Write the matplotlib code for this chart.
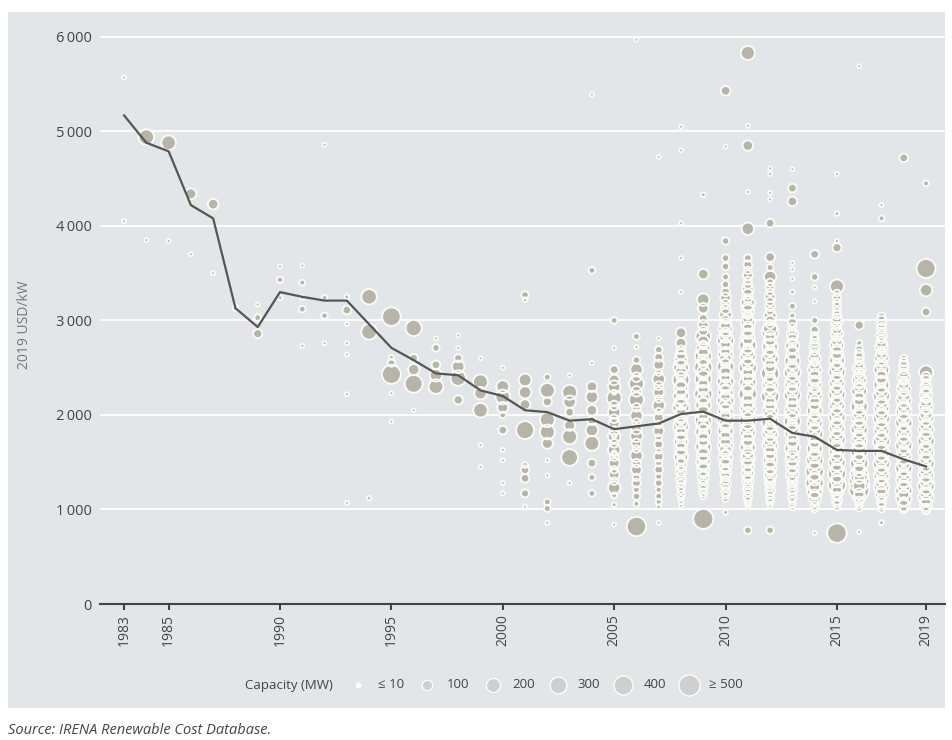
import numpy as np
import matplotlib.pyplot as plt
import matplotlib.patches as mpatches

plt.rcParams['font.family'] = ['Open Sans', 'DejaVu Sans']

# Weighted average installed cost (2019 USD/kW)
avg_years = list(range(1983, 2020))
avg_cost = [5170, 4880, 4790, 4220, 4080, 3130, 2930, 3300, 3250, 3210,
            3210, 2960, 2710, 2580, 2440, 2420, 2260, 2200, 2050, 2030,
            1940, 1955, 1850, 1880, 1910, 2010, 2035, 1940, 1940, 1960,
            1810, 1770, 1630, 1620, 1620, 1530, 1455]

# Individual projects per commissioning year: (USD/kW, MW)
p1983 = [(5570, 5), (4050, 5)]
p1984 = [(4940, 250), (3850, 5)]
p1985 = [(4880, 220), (3840, 5)]
p1986 = [(4340, 110), (3700, 5)]
p1987 = [(4230, 100), (3500, 5)]
p1988 = [(3150, 5), (3130, 20)]
p1989 = [(3170, 5), (3030, 30), (2860, 70)]
p1990 = [(3570, 5), (3430, 25), (3240, 10)]
p1991 = [(3580, 5), (3400, 20), (3240, 8), (3120, 30), (2730, 5)]
p1992 = [(4860, 5), (3240, 15), (3050, 25), (2760, 5)]
p1993 = [(3250, 10), (3110, 60), (2960, 5), (2760, 5), (2640, 5), (2220, 5), (1070, 5)]
p1994 = [(3250, 250), (2880, 260), (1120, 8)]
p1995 = [(3040, 380), (2610, 10), (2550, 40), (2430, 400), (2230, 5), (1930, 5)]
p1996 = [(2920, 280), (2600, 60), (2480, 120), (2330, 350), (2050, 5)]
p1997 = [(2810, 5), (2710, 40), (2530, 60), (2420, 150), (2300, 220)]
p1998 = [(2840, 5), (2710, 5), (2600, 50), (2510, 150), (2390, 250), (2160, 70)]
p1999 = [(2600, 5), (2350, 230), (2230, 150), (2050, 220), (1680, 5), (1450, 5)]
p2000 = [(2500, 5), (2300, 160), (2190, 220), (2080, 110), (2000, 30), (1840, 60),
         (1630, 5), (1520, 5), (1280, 5), (1170, 5)]
p2001 = [(3270, 40), (3220, 10), (2370, 160), (2240, 150), (2110, 100), (1840, 350),
         (1470, 20), (1420, 60), (1330, 60), (1170, 50), (1030, 5)]
p2002 = [(2400, 30), (2260, 230), (2140, 70), (1950, 230), (1820, 230), (1700, 110),
         (1520, 5), (1360, 5), (1080, 30), (1010, 30), (860, 5)]
p2003 = [(2420, 5), (2240, 230), (2140, 150), (2030, 60), (1890, 110), (1770, 230),
         (1550, 300), (1280, 5)]
p2004 = [(5390, 5), (3530, 30), (2550, 5), (2300, 100), (2190, 150), (2050, 100),
         (1940, 60), (1840, 150), (1700, 230), (1490, 60), (1340, 30), (1170, 30)]
p2005 = [(3000, 30), (2710, 5), (2480, 60), (2370, 100), (2300, 150), (2240, 10),
         (2180, 230), (2100, 80), (2030, 150), (1960, 60), (1910, 100), (1830, 80),
         (1780, 10), (1770, 150), (1700, 60), (1630, 150), (1600, 10), (1560, 60),
         (1490, 100), (1420, 40), (1370, 100), (1300, 40), (1230, 150), (1150, 20),
         (1050, 10), (840, 5)]
p2006 = [(5970, 5), (2830, 30), (2720, 5), (2580, 40), (2480, 150), (2400, 80),
         (2330, 230), (2250, 100), (2160, 230), (2080, 60), (1990, 150), (1920, 60),
         (1850, 100), (1780, 150), (1700, 80), (1640, 40), (1570, 150), (1490, 60),
         (1420, 100), (1340, 40), (1280, 60), (1210, 30), (1140, 40), (1060, 20),
         (820, 420)]
p2007 = [(4730, 5), (2810, 5), (2690, 40), (2610, 60), (2530, 100), (2450, 30),
         (2380, 150), (2310, 60), (2240, 100), (2170, 40), (2100, 150), (2040, 30),
         (1970, 80), (1900, 40), (1830, 100), (1760, 30), (1690, 60), (1620, 20),
         (1560, 80), (1490, 30), (1420, 60), (1350, 30), (1280, 40), (1210, 20),
         (1140, 30), (1080, 20), (1030, 10), (860, 5)]
p2008 = [(5050, 5), (4800, 5), (4030, 5), (3660, 5), (3300, 5), (2870, 100),
         (2760, 100), (2690, 60), (2640, 100), (2590, 150), (2540, 80), (2500, 250),
         (2450, 120), (2410, 80), (2370, 300), (2320, 100), (2280, 200), (2240, 80),
         (2200, 250), (2160, 100), (2120, 150), (2080, 300), (2040, 80), (2000, 200),
         (1960, 100), (1920, 150), (1880, 250), (1840, 80), (1800, 150), (1760, 100),
         (1720, 200), (1680, 80), (1640, 150), (1600, 100), (1560, 200), (1520, 60),
         (1480, 120), (1440, 50), (1400, 100), (1360, 50), (1320, 80), (1280, 40),
         (1240, 60), (1200, 30), (1160, 40), (1120, 20), (1080, 10), (1040, 5)]
p2009 = [(4330, 10), (3490, 100), (3220, 150), (3130, 100), (3020, 60), (2950, 100),
         (2890, 80), (2830, 250), (2780, 120), (2740, 60), (2700, 200), (2660, 100),
         (2620, 300), (2580, 120), (2540, 80), (2500, 350), (2460, 150), (2420, 100),
         (2380, 300), (2340, 80), (2300, 200), (2260, 100), (2220, 350), (2180, 150),
         (2140, 80), (2100, 250), (2060, 100), (2020, 200), (1980, 80), (1940, 300),
         (1900, 150), (1860, 80), (1820, 250), (1780, 100), (1740, 150), (1700, 80),
         (1660, 250), (1620, 100), (1580, 150), (1540, 80), (1500, 200), (1460, 100),
         (1420, 150), (1380, 60), (1340, 120), (1300, 50), (1260, 80), (1220, 40),
         (1180, 50), (1140, 20), (900, 450)]
p2010 = [(5430, 80), (4840, 5), (3840, 40), (3660, 40), (3570, 40), (3460, 30),
         (3380, 40), (3300, 60), (3240, 100), (3180, 60), (3120, 80), (3060, 150),
         (3010, 60), (2960, 120), (2910, 200), (2870, 100), (2830, 150), (2790, 300),
         (2750, 100), (2710, 200), (2670, 80), (2630, 250), (2590, 150), (2550, 80),
         (2510, 300), (2470, 100), (2430, 200), (2390, 80), (2350, 300), (2310, 150),
         (2270, 100), (2230, 250), (2190, 80), (2150, 300), (2110, 150), (2070, 100),
         (2030, 250), (1990, 80), (1950, 300), (1910, 150), (1870, 100), (1830, 250),
         (1790, 80), (1750, 200), (1710, 100), (1670, 250), (1630, 150), (1590, 80),
         (1550, 200), (1510, 100), (1470, 150), (1430, 60), (1390, 120), (1350, 80),
         (1310, 60), (1270, 100), (1230, 40), (1190, 60), (1150, 30), (1110, 20),
         (970, 10)]
p2011 = [(5830, 200), (5060, 5), (4850, 100), (4360, 5), (3970, 150), (3660, 40),
         (3590, 60), (3530, 40), (3480, 80), (3420, 50), (3380, 60), (3330, 120),
         (3280, 100), (3230, 60), (3180, 200), (3140, 100), (3100, 150), (3060, 60),
         (3020, 100), (2980, 200), (2940, 80), (2900, 150), (2860, 100), (2820, 200),
         (2780, 80), (2740, 300), (2700, 100), (2660, 150), (2620, 250), (2580, 80),
         (2540, 150), (2500, 350), (2460, 100), (2420, 200), (2380, 80), (2340, 300),
         (2300, 150), (2260, 100), (2220, 350), (2180, 80), (2140, 200), (2100, 100),
         (2060, 250), (2020, 150), (1980, 80), (1940, 300), (1900, 100), (1860, 150),
         (1820, 250), (1780, 80), (1740, 150), (1700, 100), (1660, 250), (1620, 80),
         (1580, 150), (1540, 200), (1500, 100), (1460, 150), (1420, 60), (1380, 150),
         (1340, 80), (1300, 120), (1260, 60), (1220, 80), (1180, 40), (1140, 60),
         (1100, 30), (1060, 20), (1030, 5), (780, 40)]
p2012 = [(4610, 5), (4550, 5), (4350, 5), (4280, 5), (4030, 60), (3670, 80),
         (3560, 30), (3460, 150), (3400, 50), (3350, 60), (3300, 40), (3250, 100),
         (3200, 60), (3150, 80), (3100, 50), (3050, 150), (3000, 80), (2960, 60),
         (2920, 200), (2880, 300), (2840, 100), (2800, 150), (2760, 80), (2720, 250),
         (2680, 100), (2640, 150), (2600, 300), (2560, 80), (2520, 150), (2480, 100),
         (2440, 350), (2400, 80), (2360, 150), (2320, 250), (2280, 100), (2240, 150),
         (2200, 350), (2160, 80), (2120, 150), (2080, 100), (2040, 250), (2000, 150),
         (1960, 80), (1920, 300), (1880, 100), (1840, 150), (1800, 250), (1760, 80),
         (1720, 150), (1680, 250), (1640, 100), (1600, 150), (1560, 80), (1520, 200),
         (1480, 100), (1440, 150), (1400, 60), (1360, 150), (1320, 80), (1280, 100),
         (1240, 50), (1200, 80), (1160, 40), (1120, 50), (1080, 30), (1040, 10),
         (780, 40)]
p2013 = [(4600, 5), (4400, 60), (4260, 80), (3610, 5), (3540, 5), (3440, 5),
         (3300, 10), (3150, 30), (3050, 20), (2980, 60), (2930, 50), (2890, 40),
         (2850, 120), (2810, 80), (2770, 60), (2730, 200), (2690, 80), (2650, 150),
         (2610, 60), (2570, 250), (2530, 100), (2490, 150), (2450, 300), (2410, 80),
         (2370, 150), (2330, 250), (2290, 100), (2250, 150), (2210, 300), (2170, 80),
         (2130, 150), (2090, 100), (2050, 250), (2010, 150), (1970, 80), (1930, 300),
         (1890, 100), (1850, 150), (1810, 250), (1770, 80), (1730, 150), (1690, 100),
         (1650, 250), (1610, 80), (1570, 150), (1530, 200), (1490, 100), (1450, 150),
         (1410, 60), (1370, 150), (1330, 80), (1290, 100), (1250, 50), (1210, 80),
         (1170, 40), (1130, 60), (1090, 30), (1050, 20), (1010, 5)]
p2014 = [(3700, 60), (3460, 40), (3350, 5), (3200, 5), (3000, 30), (2900, 50),
         (2840, 40), (2800, 60), (2760, 50), (2720, 100), (2680, 60), (2640, 80),
         (2600, 150), (2560, 60), (2520, 100), (2480, 200), (2440, 80), (2400, 150),
         (2360, 100), (2320, 200), (2280, 80), (2240, 150), (2200, 250), (2160, 100),
         (2120, 150), (2080, 80), (2040, 250), (2000, 100), (1960, 150), (1920, 250),
         (1880, 80), (1840, 150), (1800, 300), (1760, 100), (1720, 150), (1680, 80),
         (1640, 250), (1600, 100), (1560, 150), (1520, 300), (1480, 100), (1440, 150),
         (1400, 350), (1360, 100), (1320, 150), (1280, 350), (1240, 100), (1200, 250),
         (1160, 80), (1120, 150), (1080, 50), (1040, 60), (1000, 20), (750, 5)]
p2015 = [(4550, 5), (4130, 10), (3840, 5), (3770, 70), (3360, 200), (3290, 30),
         (3240, 50), (3190, 40), (3150, 60), (3100, 40), (3060, 60), (3020, 80),
         (2980, 120), (2940, 60), (2900, 80), (2860, 150), (2820, 60), (2780, 100),
         (2740, 200), (2700, 80), (2660, 150), (2620, 100), (2580, 250), (2540, 80),
         (2500, 150), (2460, 300), (2420, 100), (2380, 150), (2340, 250), (2300, 80),
         (2260, 150), (2220, 300), (2180, 100), (2140, 150), (2100, 250), (2060, 80),
         (2020, 150), (1980, 300), (1940, 100), (1900, 150), (1860, 250), (1820, 80),
         (1780, 150), (1740, 300), (1700, 100), (1660, 150), (1620, 250), (1580, 80),
         (1540, 150), (1500, 300), (1460, 100), (1420, 150), (1380, 350), (1340, 100),
         (1300, 150), (1260, 350), (1220, 100), (1180, 150), (1140, 60), (1100, 80),
         (1060, 40), (1020, 20), (750, 420)]
p2016 = [(5690, 5), (2950, 70), (2760, 20), (2700, 40), (2650, 60), (2610, 80),
         (2570, 50), (2530, 80), (2490, 150), (2450, 80), (2410, 100), (2370, 200),
         (2330, 80), (2290, 100), (2250, 250), (2210, 80), (2170, 150), (2130, 100),
         (2090, 300), (2050, 80), (2010, 150), (1970, 250), (1930, 100), (1890, 150),
         (1850, 300), (1810, 80), (1770, 150), (1730, 250), (1690, 100), (1650, 150),
         (1610, 300), (1570, 80), (1530, 150), (1490, 350), (1450, 100), (1410, 150),
         (1370, 350), (1330, 100), (1290, 450), (1250, 150), (1210, 450), (1170, 100),
         (1130, 150), (1090, 60), (1050, 40), (1010, 20), (760, 5)]
p2017 = [(4220, 5), (4080, 20), (3040, 50), (3000, 80), (2960, 60), (2920, 80),
         (2880, 50), (2840, 100), (2800, 60), (2760, 100), (2720, 150), (2680, 60),
         (2640, 100), (2600, 200), (2560, 80), (2520, 100), (2480, 250), (2440, 80),
         (2400, 150), (2360, 100), (2320, 250), (2280, 80), (2240, 150), (2200, 300),
         (2160, 100), (2120, 150), (2080, 250), (2040, 80), (2000, 150), (1960, 300),
         (1920, 100), (1880, 150), (1840, 250), (1800, 80), (1760, 150), (1720, 300),
         (1680, 100), (1640, 150), (1600, 250), (1560, 80), (1520, 150), (1480, 300),
         (1440, 100), (1400, 150), (1360, 250), (1320, 100), (1280, 150), (1240, 250),
         (1200, 100), (1160, 150), (1120, 60), (1080, 80), (1040, 40), (1000, 20),
         (860, 10)]
p2018 = [(4720, 60), (2600, 30), (2560, 50), (2520, 80), (2480, 60), (2440, 80),
         (2400, 150), (2360, 60), (2320, 100), (2280, 200), (2240, 80), (2200, 150),
         (2160, 250), (2120, 80), (2080, 150), (2040, 250), (2000, 100), (1960, 150),
         (1920, 300), (1880, 80), (1840, 150), (1800, 250), (1760, 100), (1720, 150),
         (1680, 300), (1640, 80), (1600, 150), (1560, 250), (1520, 100), (1480, 150),
         (1440, 300), (1400, 80), (1360, 150), (1320, 250), (1280, 100), (1240, 150),
         (1200, 300), (1160, 100), (1120, 250), (1080, 80), (1040, 120), (1000, 40)]
p2019 = [(4450, 20), (3550, 400), (3320, 150), (3090, 60), (2450, 200), (2410, 60),
         (2370, 80), (2330, 60), (2290, 120), (2250, 80), (2210, 150), (2170, 60),
         (2130, 120), (2090, 200), (2050, 80), (2010, 150), (1970, 250), (1930, 80),
         (1890, 150), (1850, 250), (1810, 100), (1770, 150), (1730, 300), (1690, 80),
         (1650, 150), (1610, 250), (1570, 100), (1530, 150), (1490, 300), (1450, 80),
         (1410, 150), (1370, 250), (1330, 100), (1290, 150), (1250, 300), (1210, 100),
         (1170, 150), (1130, 250), (1090, 100), (1050, 150), (1010, 80), (990, 40)]

projects = [p1983, p1984, p1985, p1986, p1987, p1988, p1989, p1990, p1991, p1992,
            p1993, p1994, p1995, p1996, p1997, p1998, p1999, p2000, p2001, p2002,
            p2003, p2004, p2005, p2006, p2007, p2008, p2009, p2010, p2011, p2012,
            p2013, p2014, p2015, p2016, p2017, p2018, p2019]

year_ticks = [1983, 1985, 1990, 1995, 2000, 2005, 2010, 2015, 2019]
legend_mw = [10, 100, 200, 300, 400, 500]
legend_labels = ['\u2264 10', '100', '200', '300', '400', '\u2265 500']

bg = '#e2e6e9'
bubble = '#b7b5a8'
dark = '#444444'


def bubble_size(mw):
    d_px = 2.0 + 0.85 * np.sqrt(mw)
    return (d_px * 72 / 100) ** 2


fig = plt.figure(figsize=(9.53, 7.40), dpi=100)
fig.patch.set_facecolor('white')
fig.patches.append(mpatches.Rectangle((8 / 953, 1 - 708 / 740), 937 / 953, 696 / 740,
                                      transform=fig.transFigure, facecolor=bg,
                                      edgecolor='none', zorder=-10))

ax = fig.add_axes([100 / 953, 136 / 740, 845 / 953, 586 / 740])
ax.set_facecolor('none')

xs, ys, ss = [], [], []
for yr, pts in zip(avg_years, projects):
    for cost, mw in pts:
        xs.append(yr)
        ys.append(cost)
        ss.append(bubble_size(mw))

# filled discs first, then every white outline on top of all fills
ax.scatter(xs, ys, s=ss, c=bubble, linewidths=0, zorder=3)
ax.scatter(xs, ys, s=ss, facecolors='none', edgecolors='#fbfbf8', linewidths=1.35,
           zorder=3.5)

ax.plot(avg_years, avg_cost, color='#555555', lw=1.6, zorder=4)

ax.set_xlim(1981.92, 2019.85)
ax.set_ylim(0, 6200)
ax.set_yticks(range(0, 7000, 1000))
ax.set_yticklabels(['0'] + [f'{v // 1000}\u2009000' for v in range(1000, 7000, 1000)])
ax.set_xticks(year_ticks)
ax.set_xticklabels([str(y) for y in year_ticks], rotation=90)
ax.grid(axis='y', color='white', lw=1.3, zorder=1)
ax.set_axisbelow(True)
for side in ['top', 'right', 'left']:
    ax.spines[side].set_visible(False)
ax.spines['bottom'].set_color(dark)
ax.spines['bottom'].set_linewidth(1.5)
ax.spines['bottom'].set_zorder(5)
ax.tick_params(axis='y', length=0, pad=6, labelsize=10.5, labelcolor=dark)
ax.tick_params(axis='x', length=4, width=1.5, color=dark, pad=3, labelsize=10,
               labelcolor=dark)

fig.text(25 / 953, 1 - 325 / 740, '2019 USD/kW', rotation=90, ha='center', va='center',
         fontsize=10, color='#777777')

handles = []
for i, mw in enumerate(legend_mw):
    face = 'white' if i == 0 else '#cfcfcd'
    handles.append(ax.scatter([], [], s=bubble_size(mw), c=face, edgecolors='white',
                              linewidths=0.9))
fig.text(289 / 953, 1 - 685 / 740, 'Capacity (MW)', ha='center', va='center',
         fontsize=9.5, color=dark)
fig.legend(handles, legend_labels, loc='center left',
           bbox_to_anchor=(345 / 953, 1 - 685 / 740), ncol=6, frameon=False,
           fontsize=9.5, labelcolor=dark, handletextpad=0.5, columnspacing=0.75,
           borderaxespad=0, borderpad=0)

fig.text(8 / 953, 1 - 731 / 740, 'Source: IRENA Renewable Cost Database.',
         style='italic', fontsize=10.5, color=dark, ha='left', va='center')

fig.savefig('out.png', dpi=100, facecolor=fig.get_facecolor())
